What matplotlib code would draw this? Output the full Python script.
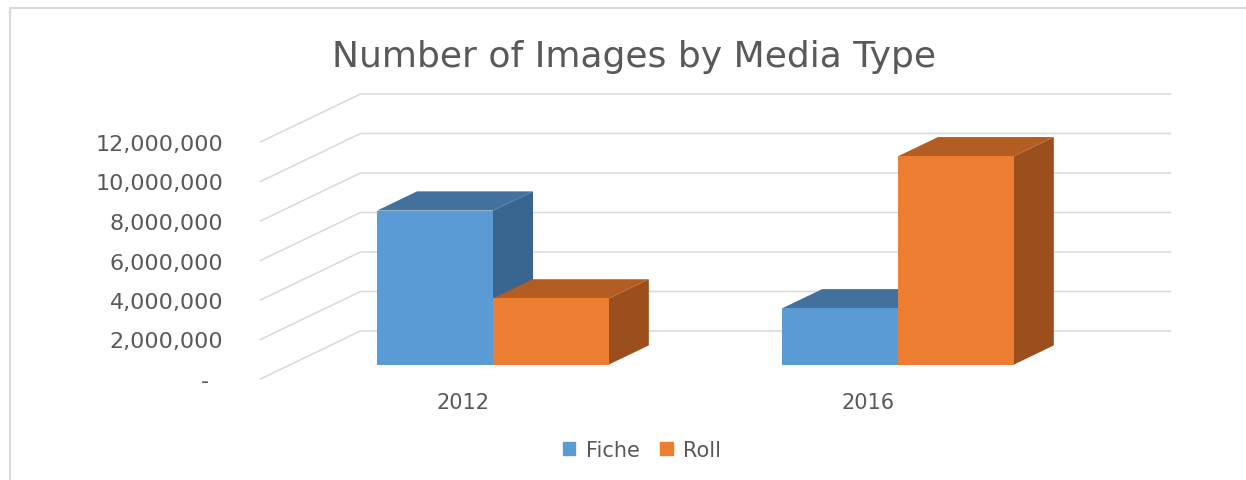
import matplotlib
matplotlib.use("Agg")
import matplotlib.pyplot as plt
from matplotlib.patches import Patch
from matplotlib.lines import Line2D

# data
years = ["2012", "2016"]
fiche = [7800000, 2850000]
roll = [3350000, 10550000]
ticks = [0, 2000000, 4000000, 6000000, 8000000, 10000000, 12000000]
tick_labels = ["-  ", "2,000,000", "4,000,000", "6,000,000", "8,000,000", "10,000,000", "12,000,000"]

W, H = 1246, 481
plt.rcParams["font.family"] = ["DejaVu Sans"]
TXT = "#595959"
GRID = "#D9D9D9"

# pixel geometry of the fake 3d box
X0PX, PX_CAT = 463, 405      # category 0 centre, px per category
Y0PX, PX_UNIT = 380, 19.75e-6  # zero line, px per value unit
DX, DY = 100 / PX_CAT, 48 / PX_UNIT   # full depth offset in data units
BAR_W = 0.286
D_FRONT, D_BACK = 0.3, 0.7

xlim = (-0.575, 1.8)
ylim = (-0.5e6, 15e6)

fig = plt.figure(figsize=(W / 100, H / 100), dpi=100)
L = X0PX + xlim[0] * PX_CAT
R = X0PX + xlim[1] * PX_CAT
B = Y0PX - ylim[0] * PX_UNIT
T = Y0PX - ylim[1] * PX_UNIT
ax = fig.add_axes([L / W, 1 - B / H, (R - L) / W, (B - T) / H])
ax.set_xlim(*xlim)
ax.set_ylim(*ylim)
for s in ax.spines.values():
    s.set_visible(False)


def proj(x, y, d):
    return x + d * DX, y + d * DY


# walls / gridlines
for v in ticks:
    p0 = proj(-0.5, v, 0)
    p1 = proj(-0.5, v, 1)
    p2 = proj(1.5, v, 1)
    ax.plot([p0[0], p1[0], p2[0]], [p0[1], p1[1], p2[1]], color=GRID, lw=1.1, zorder=1)


def bar3d(xl, h, front, top, side):
    xr = xl + BAR_W
    f = [proj(xl, 0, D_FRONT), proj(xr, 0, D_FRONT), proj(xr, h, D_FRONT), proj(xl, h, D_FRONT)]
    t = [proj(xl, h, D_FRONT), proj(xr, h, D_FRONT), proj(xr, h, D_BACK), proj(xl, h, D_BACK)]
    s = [proj(xr, 0, D_FRONT), proj(xr, 0, D_BACK), proj(xr, h, D_BACK), proj(xr, h, D_FRONT)]
    for poly, c in ((s, side), (t, top), (f, front)):
        xs, ys = zip(*poly)
        ax.fill(xs, ys, color=c, lw=0, zorder=2)


for i in range(len(years)):
    bar3d(i - BAR_W, fiche[i], "#5B9BD5", "#41719C", "#386690")
    bar3d(i, roll[i], "#ED7D31", "#B45D22", "#9A4F1C")

ax.set_yticks(ticks)
ax.set_yticklabels(tick_labels)
ax.set_xticks(range(len(years)))
ax.set_xticklabels(years)
ax.tick_params(axis="y", length=0, pad=5, labelsize=16, labelcolor=TXT)
ax.tick_params(axis="x", length=0, pad=2, labelsize=15, labelcolor=TXT)

fig.text(634 / W, 1 - 67 / H, "Number of Images by Media Type", ha="center", va="baseline",
         fontsize=26, color=TXT)

handles = [Patch(color="#5B9BD5", label="Fiche"), Patch(color="#ED7D31", label="Roll")]
fig.legend(handles=handles, loc="center", bbox_to_anchor=(642 / W, 1 - 451 / H), ncol=2,
           frameon=False, handlelength=0.6, handleheight=0.6, handletextpad=0.5,
           columnspacing=1.0, fontsize=15, labelcolor=TXT)

# chart area border (left + top)
fig.add_artist(Line2D([10 / W, 10 / W, 1], [0, 1 - 9 / H, 1 - 9 / H], transform=fig.transFigure,
                      color=GRID, lw=1.5))

fig.savefig("out.png", dpi=100)
